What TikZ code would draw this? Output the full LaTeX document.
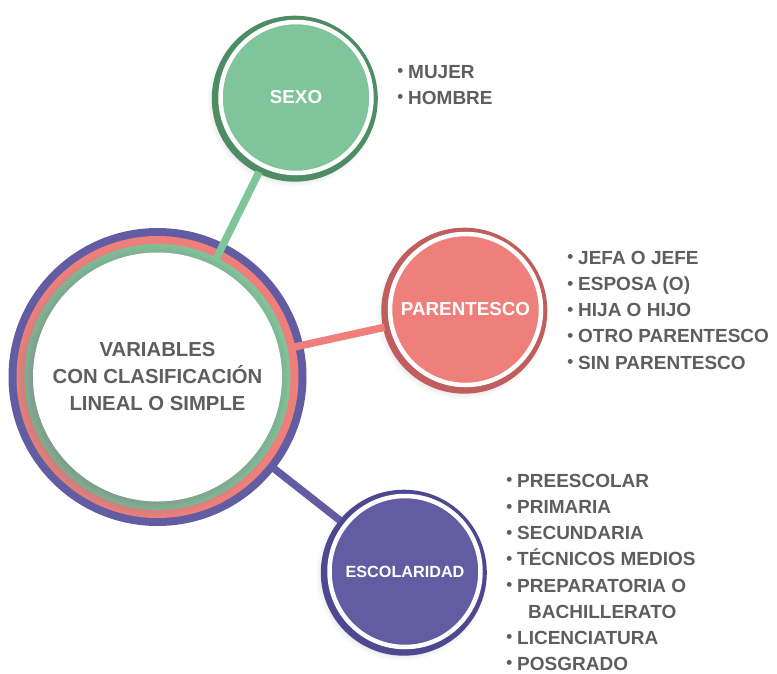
\documentclass[tikz,border=0pt]{standalone}
\usepackage{fontspec}
\setmainfont{Liberation Sans}
\usetikzlibrary{shadows}
\definecolor{moradoC}{HTML}{625CA3}
\definecolor{moradoO}{HTML}{4F4890}
\definecolor{rosaC}{HTML}{EE7F7A}
\definecolor{rosaO}{HTML}{BF5E5C}
\definecolor{verdeC}{HTML}{7FC49A}
\definecolor{verdeO}{HTML}{4E8D64}
\definecolor{texto}{HTML}{5E5E5E}
\newcommand{\vin}{\llap{{\fontsize{17}{17}\selectfont\raisebox{.1em}{•}}\hspace{5pt}}}
\begin{document}
\begin{tikzpicture}[x=1pt,y=-1pt,
    anillo/.style={circle,inner sep=0pt,outer sep=0pt,minimum size=#1},
    enlace/.style={line width=7.5pt},
    satelite/.style 2 args={circle,inner sep=0pt,minimum size=151pt,outer sep=7.5pt,
        circular drop shadow={shadow scale=1.14,shadow xshift=-3pt,shadow yshift=-3pt,opacity=.3},
        preaction={draw=#2,line width=15pt,transform canvas={shift={(-1.2pt,-1.2pt)}}},
        fill=#1,draw=white,line width=4.5pt,text=white,font=\bfseries\fontsize{18.8}{20}\selectfont},
    lista/.style={anchor=north west,align=left,inner sep=0pt,text=texto,font=\bfseries\fontsize{19}{26.1}\selectfont}]
    \useasboundingbox (0,0) rectangle (777,673);
    \node[satelite={verdeC}{verdeO}] (sexo) at (296,97.5) {SEXO};
    \node[satelite={rosaC}{rosaO}] (parentesco) at (465.5,309.5) {PARENTESCO};
    \node[satelite={moradoC}{moradoO},font=\bfseries\fontsize{16.2}{18}\selectfont] (escolaridad) at (405,571.5) {ESCOLARIDAD};
    \node[lista] (lsexo) at (408,65.2) {\vin MUJER\\\vin HOMBRE};
    \node[lista] (lparentesco) at (578,251.2) {\vin JEFA O JEFE\\\vin ESPOSA (O)\\\vin HIJA O HIJO\\\vin OTRO PARENTESCO\\\vin SIN PARENTESCO};
    \node[lista] (lescolaridad) at (517,474.2) {\vin PREESCOLAR\\\vin PRIMARIA\\\vin SECUNDARIA\\\vin TÉCNICOS MEDIOS\\\vin PREPARATORIA O\\\hspace{11pt}BACHILLERATO\\\vin LICENCIATURA\\\vin POSGRADO};
    \node[anillo=298pt,fill=moradoC] (anilloM) at (157.5,377) {};
    \draw[enlace,moradoC] (anilloM.center) -- (escolaridad);
    \node[anillo=282pt,fill=rosaC] (anilloR) at (anilloM) {};
    \draw[enlace,rosaC] (anilloR.center) -- (parentesco);
    \node[anillo=266pt,fill=verdeC] (anilloV) at (anilloR) {};
    \draw[enlace,verdeC] (anilloV.center) -- (sexo);
    \node[anillo=249pt,fill=white,align=center,text=texto,font=\bfseries\fontsize{20.3}{27}\selectfont,
        circular drop shadow={shadow scale=1.1,shadow xshift=-5pt,shadow yshift=-3pt,opacity=.65}] (variables) at (anilloV) {VARIABLES\\CON CLASIFICACIÓN\\LINEAL O SIMPLE};
\end{tikzpicture}
\end{document}
